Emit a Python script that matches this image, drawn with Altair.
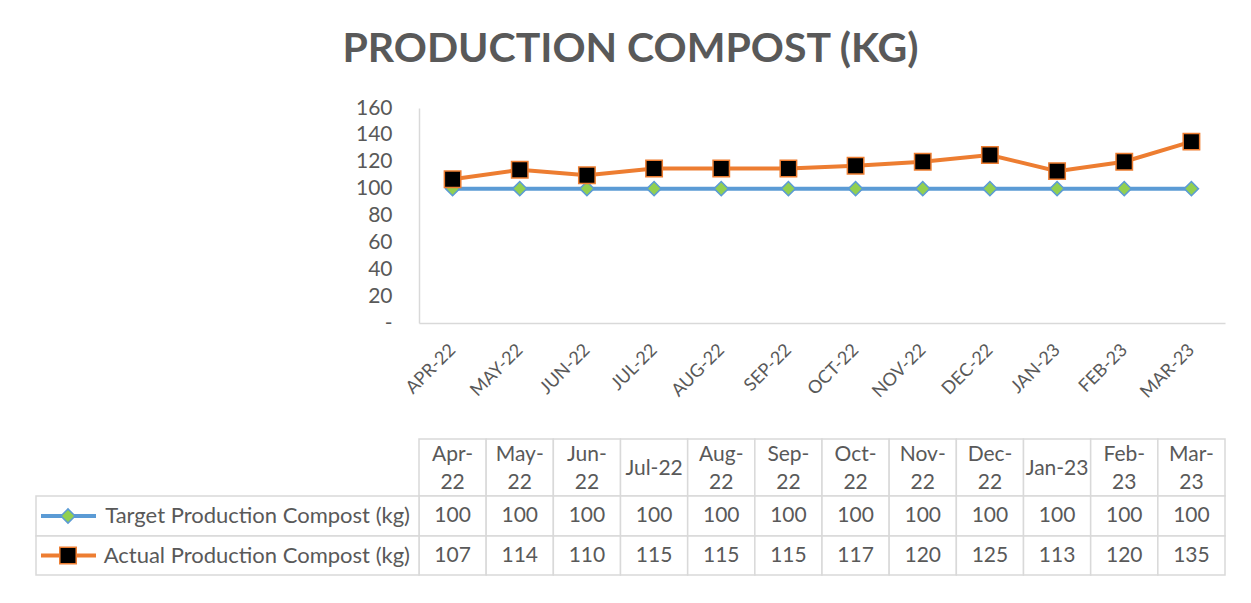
import altair as alt
import pandas as pd

# ---------------- data ----------------
months = ["Apr-22", "May-22", "Jun-22", "Jul-22", "Aug-22", "Sep-22",
          "Oct-22", "Nov-22", "Dec-22", "Jan-23", "Feb-23", "Mar-23"]
header_text = ["Apr-\n22", "May-\n22", "Jun-\n22", "Jul-22", "Aug-\n22", "Sep-\n22",
               "Oct-\n22", "Nov-\n22", "Dec-\n22", "Jan-23", "Feb-\n23", "Mar-\n23"]
series = ["Target Production Compost (kg)", "Actual Production Compost (kg)"]
target = [100, 100, 100, 100, 100, 100, 100, 100, 100, 100, 100, 100]
actual = [107, 114, 110, 115, 115, 115, 117, 120, 125, 113, 120, 135]
y_ticks = [0, 20, 40, 60, 80, 100, 120, 140, 160]

# ---------------- styles / layout ----------------
line_colors = ["#5B9BD5", "#ED7D31"]
fill_colors = ["#92D050", "#000000"]
shapes = ["diamond", "square"]
sizes = [200, 270]
FONT = "Lato"
GRAY = "#595959"
BORDER = "#D9D9D9"

W, H = 806, 215          # plot area of the line chart
HEADER_H = 57
ROW_H = [40, 39]
TH = HEADER_H + sum(ROW_H)
U = W / len(months)      # px per table column
LEG_W = 383              # legend column width (px)
LINE_H = 28              # line height inside header cells

color_scale = alt.Scale(domain=series, range=line_colors)
fill_scale = alt.Scale(domain=series, range=fill_colors)
shape_scale = alt.Scale(domain=series, range=shapes)
size_scale = alt.Scale(domain=series, range=sizes)

# ---------------- line chart ----------------
long = pd.DataFrame({
    "month": months * 2,
    "value": target + actual,
    "series": [series[0]] * len(months) + [series[1]] * len(months),
})

x_top = alt.X("month:N", sort=months, scale=alt.Scale(type="point", padding=0.5),
              axis=alt.Axis(title=None, labelAngle=-45, labelExpr="upper(datum.label)",
                            labelFont=FONT, labelFontSize=18, labelColor=GRAY,
                            labelPadding=24, labelAlign="right", labelBaseline="middle",
                            ticks=False, domainColor=BORDER, domainWidth=1.5))
y_top = alt.Y("value:Q", scale=alt.Scale(domain=[0, 160], nice=False),
              axis=alt.Axis(title=None, values=y_ticks,
                            labelExpr="datum.value == 0 ? '-' : datum.label",
                            labelFont=FONT, labelFontSize=21, labelColor=GRAY,
                            labelPadding=27, grid=False, ticks=False,
                            domainColor=BORDER, domainWidth=1.5))

lines = alt.Chart(long).mark_line(strokeWidth=4).encode(
    x=x_top, y=y_top,
    color=alt.Color("series:N", scale=color_scale, legend=None),
)
points = alt.Chart(long).mark_point(filled=True, opacity=1, strokeWidth=1.5).encode(
    x=x_top, y=y_top,
    fill=alt.Fill("series:N", scale=fill_scale, legend=None),
    stroke=alt.Stroke("series:N", scale=color_scale, legend=None),
    shape=alt.Shape("series:N", scale=shape_scale, legend=None),
    size=alt.Size("series:N", scale=size_scale, legend=None),
)
top = alt.layer(lines, points).properties(width=W, height=H)

# ---------------- data table ----------------
row_top = [0, HEADER_H, HEADER_H + ROW_H[0]]
row_bot = [HEADER_H, HEADER_H + ROW_H[0], TH]

rects, texts = [], []
for i, m in enumerate(months):
    rects.append(dict(x0=i, x1=i + 1, y0=row_top[0], y1=row_bot[0]))
    parts = header_text[i].split("\n")
    yc = (row_top[0] + row_bot[0]) / 2 + 1
    for j, p in enumerate(parts):
        texts.append(dict(xc=i + 0.5, yc=yc + (j - (len(parts) - 1) / 2) * LINE_H, label=p))
    for r, vals in enumerate([target, actual]):
        rects.append(dict(x0=i, x1=i + 1, y0=row_top[r + 1], y1=row_bot[r + 1]))
        texts.append(dict(xc=i + 0.5, yc=(row_top[r + 1] + row_bot[r + 1]) / 2,
                          label=str(vals[i])))
rects = pd.DataFrame(rects)
texts = pd.DataFrame(texts)

legend_rows = pd.DataFrame({
    "series": series,
    "x0": [-LEG_W / U] * 2,
    "x1": [0.0] * 2,
    "y0": row_top[1:],
    "y1": row_bot[1:],
    "yc": [(a + b) / 2 for a, b in zip(row_top[1:], row_bot[1:])],
    "gx0": [-(LEG_W - 5) / U] * 2,
    "gx1": [-(LEG_W - 60) / U] * 2,
    "gm": [-(LEG_W - 32) / U] * 2,
})

xs = alt.Scale(domain=[0, len(months)], nice=False, zero=False)
ys = alt.Scale(domain=[0, TH], nice=False, zero=False, reverse=True)

cell_rects = alt.Chart(rects).mark_rect(fill="white", stroke=BORDER, strokeWidth=1.5).encode(
    x=alt.X("x0:Q", scale=xs, axis=None), x2="x1",
    y=alt.Y("y0:Q", scale=ys, axis=None), y2="y1",
)
cell_text = alt.Chart(texts).mark_text(font=FONT, fontSize=21, color=GRAY,
                                       align="center", baseline="middle").encode(
    x=alt.X("xc:Q", scale=xs, axis=None),
    y=alt.Y("yc:Q", scale=ys, axis=None),
    text="label:N",
)
leg_rects = alt.Chart(legend_rows).mark_rect(fill="white", stroke=BORDER, strokeWidth=1.5).encode(
    x=alt.X("x0:Q", scale=xs, axis=None), x2="x1",
    y=alt.Y("y0:Q", scale=ys, axis=None), y2="y1",
)
leg_lines = alt.Chart(legend_rows).mark_rule(strokeWidth=4).encode(
    x=alt.X("gx0:Q", scale=xs, axis=None), x2="gx1",
    y=alt.Y("yc:Q", scale=ys, axis=None),
    color=alt.Color("series:N", scale=color_scale, legend=None),
)
leg_marks = alt.Chart(legend_rows).mark_point(filled=True, opacity=1, strokeWidth=1.5).encode(
    x=alt.X("gm:Q", scale=xs, axis=None),
    y=alt.Y("yc:Q", scale=ys, axis=None),
    fill=alt.Fill("series:N", scale=fill_scale, legend=None),
    stroke=alt.Stroke("series:N", scale=color_scale, legend=None),
    shape=alt.Shape("series:N", scale=shape_scale, legend=None),
    size=alt.Size("series:N", scale=size_scale, legend=None),
)
leg_text = alt.Chart(legend_rows).mark_text(font=FONT, fontSize=22, color=GRAY,
                                            align="right", baseline="middle", dx=-9).encode(
    x=alt.X("x1:Q", scale=xs, axis=None),
    y=alt.Y("yc:Q", scale=ys, axis=None),
    text="series:N",
)
table = alt.layer(cell_rects, cell_text, leg_rects, leg_lines, leg_marks, leg_text).properties(
    width=W, height=TH)

chart = alt.vconcat(
    top, table, spacing=116, bounds="flush",
    title=alt.Title("PRODUCTION COMPOST (KG)", font=FONT, fontSize=41, fontWeight="bold",
                    color=GRAY, anchor="middle", offset=26),
).resolve_scale(x="independent", y="independent").properties(
    padding={"left": 27, "top": 21, "right": 5, "bottom": 5}
).configure_view(strokeWidth=0)

chart.save("out.html", embed_options={"renderer": "svg", "actions": False})
